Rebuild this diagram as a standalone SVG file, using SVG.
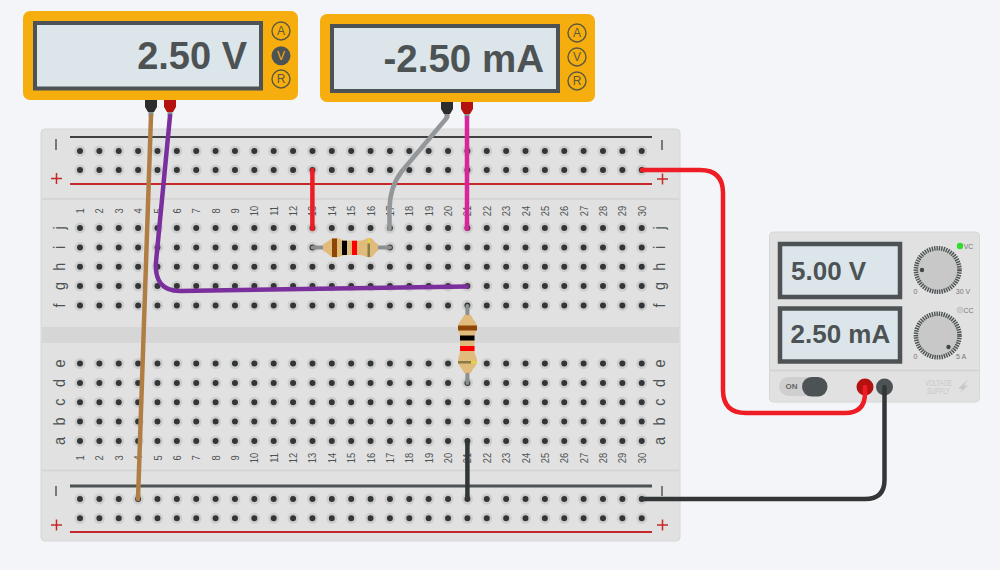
<svg xmlns="http://www.w3.org/2000/svg" xmlns:xlink="http://www.w3.org/1999/xlink" width="1000" height="570" viewBox="0 0 1000 570">
<style>
text{font-family:"Liberation Sans",Arial,sans-serif}
.halo{stroke:#cdcdcd;stroke-width:11;stroke-linecap:round;stroke-dasharray:0 19.37;fill:none}
.hole{stroke:#333637;stroke-width:6;stroke-linecap:round;stroke-dasharray:0 19.37;fill:none}
.num{font-size:11px;fill:#4d5354;text-anchor:middle}
.let{font-size:17px;fill:#4d5354;text-anchor:middle}
.meter{fill:#f5ae0d}
.screen{fill:#dce6ea;stroke:#4d5354;stroke-width:4}
.read{font-weight:bold;fill:#4d5354}
.mb{fill:none;stroke:#5c5840;stroke-width:1.400}
.mt{font-size:12px;fill:#5c5840;text-anchor:middle}
.wire{fill:none;stroke-width:4.500;stroke-linecap:round;stroke-linejoin:round}
.lead{stroke:#8b8f91;stroke-width:4;stroke-linecap:round;fill:none}
.body{fill:#e0bb7c}
.plab{font-size:7px;fill:#777;text-anchor:middle}
.vs{font-size:9px;fill:#c8c8c8;text-anchor:middle}
.knob{fill:#c8c8c8;stroke:#4d5354;stroke-width:4.500;stroke-dasharray:1.400 1}
</style>
<defs>
<g id="r2"><line class="halo" x1="80" x2="642" y1="0" y2="0"/><line class="hole" x1="80" x2="642" y1="0" y2="0"/></g>
<g id="probeB"><path d="M-6 0H6V7L3 12H-3L-6 7Z" fill="#2c2c2c"/><rect x="-2.500" y="12" width="5" height="4" fill="#8b8f91"/></g>
<g id="probeR"><path d="M-6 0H6V7L3 12H-3L-6 7Z" fill="#b3120f"/><rect x="-2.500" y="12" width="5" height="4" fill="#8b8f91"/></g>
</defs>
<rect width="1000" height="570" fill="#f3f5f8"/>

<g id="breadboard">
<rect x="41" y="129" width="639" height="412" rx="4" fill="#e1e1e1" stroke="#d6d6d6"/>
<rect x="42" y="327" width="637" height="16" fill="#d6d6d6"/>
<path d="M42 199H679M42 470.500H679" stroke="#d2d2d2" stroke-width="1.500"/>
<path d="M70 137H652" stroke="#3f4142" stroke-width="2"/>
<path d="M70 486H652" stroke="#4d5354" stroke-width="3"/>
<path d="M70 184H652M70 532H652" stroke="#c5282b" stroke-width="2"/>
<path d="M56 139V150M662 140V150M56 486V496M662 486V496" stroke="#555" stroke-width="1.500"/>
<path d="M51 178.500H62M56.500 173V184M657 179H668M662.500 173.500V184.500M51 525H62M56.500 519.500V530.500M657 525H668M662.500 519.500V530.500" stroke="#c5282b" stroke-width="1.500"/>
<use xlink:href="#r2" y="151"/><use xlink:href="#r2" y="170"/>
<use xlink:href="#r2" y="228"/><use xlink:href="#r2" y="247.400"/><use xlink:href="#r2" y="266.700"/><use xlink:href="#r2" y="286"/><use xlink:href="#r2" y="305.400"/>
<use xlink:href="#r2" y="363.500"/><use xlink:href="#r2" y="382.900"/><use xlink:href="#r2" y="402.200"/><use xlink:href="#r2" y="421.600"/><use xlink:href="#r2" y="441"/>
<use xlink:href="#r2" y="499"/><use xlink:href="#r2" y="518.300"/>
<g class="let">
<text transform="translate(65,228) rotate(-90) scale(.85,1)">j</text><text transform="translate(65,247.400) rotate(-90) scale(.85,1)">i</text><text transform="translate(65,266.700) rotate(-90) scale(.85,1)">h</text><text transform="translate(65,286) rotate(-90) scale(.85,1)">g</text><text transform="translate(65,305.400) rotate(-90) scale(.85,1)">f</text>
<text transform="translate(65,363.500) rotate(-90) scale(.85,1)">e</text><text transform="translate(65,382.900) rotate(-90) scale(.85,1)">d</text><text transform="translate(65,402.200) rotate(-90) scale(.85,1)">c</text><text transform="translate(65,421.600) rotate(-90) scale(.85,1)">b</text><text transform="translate(65,441) rotate(-90) scale(.85,1)">a</text>
<text transform="translate(665,228) rotate(-90) scale(.85,1)">j</text><text transform="translate(665,247.400) rotate(-90) scale(.85,1)">i</text><text transform="translate(665,266.700) rotate(-90) scale(.85,1)">h</text><text transform="translate(665,286) rotate(-90) scale(.85,1)">g</text><text transform="translate(665,305.400) rotate(-90) scale(.85,1)">f</text>
<text transform="translate(665,363.500) rotate(-90) scale(.85,1)">e</text><text transform="translate(665,382.900) rotate(-90) scale(.85,1)">d</text><text transform="translate(665,402.200) rotate(-90) scale(.85,1)">c</text><text transform="translate(665,421.600) rotate(-90) scale(.85,1)">b</text><text transform="translate(665,441) rotate(-90) scale(.85,1)">a</text>
</g>
<g class="num">
<text transform="translate(84,211) rotate(-90) scale(.85,1)">1</text><text transform="translate(103.400,211) rotate(-90) scale(.85,1)">2</text><text transform="translate(122.700,211) rotate(-90) scale(.85,1)">3</text><text transform="translate(142.100,211) rotate(-90) scale(.85,1)">4</text><text transform="translate(161.500,211) rotate(-90) scale(.85,1)">5</text><text transform="translate(180.900,211) rotate(-90) scale(.85,1)">6</text><text transform="translate(200.200,211) rotate(-90) scale(.85,1)">7</text><text transform="translate(219.600,211) rotate(-90) scale(.85,1)">8</text><text transform="translate(239,211) rotate(-90) scale(.85,1)">9</text><text transform="translate(258.300,211) rotate(-90) scale(.85,1)">10</text><text transform="translate(277.700,211) rotate(-90) scale(.85,1)">11</text><text transform="translate(297.100,211) rotate(-90) scale(.85,1)">12</text><text transform="translate(316.400,211) rotate(-90) scale(.85,1)">13</text><text transform="translate(335.800,211) rotate(-90) scale(.85,1)">14</text><text transform="translate(355.200,211) rotate(-90) scale(.85,1)">15</text><text transform="translate(374.600,211) rotate(-90) scale(.85,1)">16</text><text transform="translate(393.900,211) rotate(-90) scale(.85,1)">17</text><text transform="translate(413.300,211) rotate(-90) scale(.85,1)">18</text><text transform="translate(432.700,211) rotate(-90) scale(.85,1)">19</text><text transform="translate(452,211) rotate(-90) scale(.85,1)">20</text><text transform="translate(471.400,211) rotate(-90) scale(.85,1)">21</text><text transform="translate(490.800,211) rotate(-90) scale(.85,1)">22</text><text transform="translate(510.100,211) rotate(-90) scale(.85,1)">23</text><text transform="translate(529.500,211) rotate(-90) scale(.85,1)">24</text><text transform="translate(548.900,211) rotate(-90) scale(.85,1)">25</text><text transform="translate(568.300,211) rotate(-90) scale(.85,1)">26</text><text transform="translate(587.600,211) rotate(-90) scale(.85,1)">27</text><text transform="translate(607,211) rotate(-90) scale(.85,1)">28</text><text transform="translate(626.400,211) rotate(-90) scale(.85,1)">29</text><text transform="translate(645.700,211) rotate(-90) scale(.85,1)">30</text>
<text transform="translate(84,458) rotate(-90) scale(.85,1)">1</text><text transform="translate(103.400,458) rotate(-90) scale(.85,1)">2</text><text transform="translate(122.700,458) rotate(-90) scale(.85,1)">3</text><text transform="translate(142.100,458) rotate(-90) scale(.85,1)">4</text><text transform="translate(161.500,458) rotate(-90) scale(.85,1)">5</text><text transform="translate(180.900,458) rotate(-90) scale(.85,1)">6</text><text transform="translate(200.200,458) rotate(-90) scale(.85,1)">7</text><text transform="translate(219.600,458) rotate(-90) scale(.85,1)">8</text><text transform="translate(239,458) rotate(-90) scale(.85,1)">9</text><text transform="translate(258.300,458) rotate(-90) scale(.85,1)">10</text><text transform="translate(277.700,458) rotate(-90) scale(.85,1)">11</text><text transform="translate(297.100,458) rotate(-90) scale(.85,1)">12</text><text transform="translate(316.400,458) rotate(-90) scale(.85,1)">13</text><text transform="translate(335.800,458) rotate(-90) scale(.85,1)">14</text><text transform="translate(355.200,458) rotate(-90) scale(.85,1)">15</text><text transform="translate(374.600,458) rotate(-90) scale(.85,1)">16</text><text transform="translate(393.900,458) rotate(-90) scale(.85,1)">17</text><text transform="translate(413.300,458) rotate(-90) scale(.85,1)">18</text><text transform="translate(432.700,458) rotate(-90) scale(.85,1)">19</text><text transform="translate(452,458) rotate(-90) scale(.85,1)">20</text><text transform="translate(471.400,458) rotate(-90) scale(.85,1)">21</text><text transform="translate(490.800,458) rotate(-90) scale(.85,1)">22</text><text transform="translate(510.100,458) rotate(-90) scale(.85,1)">23</text><text transform="translate(529.500,458) rotate(-90) scale(.85,1)">24</text><text transform="translate(548.900,458) rotate(-90) scale(.85,1)">25</text><text transform="translate(568.300,458) rotate(-90) scale(.85,1)">26</text><text transform="translate(587.600,458) rotate(-90) scale(.85,1)">27</text><text transform="translate(607,458) rotate(-90) scale(.85,1)">28</text><text transform="translate(626.400,458) rotate(-90) scale(.85,1)">29</text><text transform="translate(645.700,458) rotate(-90) scale(.85,1)">30</text>
</g>
</g>

<g id="multimeter-voltage">
<rect class="meter" x="23" y="11" width="275" height="89" rx="7"/>
<rect class="screen" x="35" y="23" width="226" height="65.500"/>
<text class="read" x="247" y="69" font-size="38" text-anchor="end">2.50 V</text>
<circle class="mb" cx="281" cy="31" r="9"/><text class="mt" x="281" y="35.300">A</text>
<circle cx="281" cy="55.700" r="9.500" fill="#4d5354"/><text class="mt" x="281" y="60" style="fill:#f5ae0d">V</text>
<circle class="mb" cx="281" cy="79" r="9"/><text class="mt" x="281" y="83.300">R</text>
<use xlink:href="#probeB" x="151" y="100"/><use xlink:href="#probeR" x="170" y="100"/>
</g>

<g id="multimeter-current">
<rect class="meter" x="320" y="14" width="275" height="88" rx="7"/>
<rect class="screen" x="332" y="26" width="226" height="65"/>
<text class="read" x="544" y="71.500" font-size="38.500" text-anchor="end">-2.50 mA</text>
<circle class="mb" cx="577" cy="33" r="9"/><text class="mt" x="577" y="37.300">A</text>
<circle class="mb" cx="577" cy="57" r="9"/><text class="mt" x="577" y="61.300">V</text>
<circle class="mb" cx="577" cy="81" r="9"/><text class="mt" x="577" y="85.300">R</text>
<use xlink:href="#probeB" x="447" y="102"/><use xlink:href="#probeR" x="467" y="102"/>
</g>

<g id="power-supply">
<rect x="769.500" y="232" width="210" height="170" rx="4" fill="#e1e1e1" stroke="#d6d6d6"/>
<path d="M770 370.500H979" stroke="#d2d2d2" stroke-width="1.500"/>
<rect x="780" y="244" width="120" height="53" fill="#dce6ea" stroke="#4d5354" stroke-width="4.500"/>
<rect x="780" y="308.500" width="120" height="53" fill="#dce6ea" stroke="#4d5354" stroke-width="4.500"/>
<text class="read" x="791" y="279.500" font-size="26">5.00 V</text>
<text class="read" x="790.500" y="343" font-size="26">2.50 mA</text>
<circle class="knob" cx="937.700" cy="270" r="21.800"/><circle cx="922" cy="270" r="2.200" fill="#444"/>
<circle class="knob" cx="937.700" cy="335.500" r="21.800"/><circle cx="948.500" cy="347" r="2.200" fill="#444"/>
<circle cx="960" cy="246" r="3.200" fill="#2fdc2f"/><text class="plab" x="968.500" y="248.500">VC</text>
<circle cx="960" cy="310" r="3" fill="#cfcfcf" stroke="#c4c4c4"/><text class="plab" x="968.500" y="312.500">CC</text>
<text class="plab" x="915.500" y="294">0</text><text class="plab" x="963" y="294">30 V</text>
<text class="plab" x="915.500" y="359">0</text><text class="plab" x="961" y="359">5 A</text>
<rect x="779" y="377" width="48" height="19" rx="9.500" fill="#cfcfcf"/>
<rect x="802" y="377" width="25.500" height="19.500" rx="9.700" fill="#4d5354"/>
<text x="791.500" y="389" font-size="8" font-weight="bold" fill="#666" text-anchor="middle">ON</text>
<circle cx="865" cy="387" r="8.500" fill="#b3120f"/><circle cx="884.500" cy="387" r="8.500" fill="#4d5354"/>
<text class="vs" x="938.500" y="385.500" textLength="27" lengthAdjust="spacingAndGlyphs">VOLTAGE</text><text class="vs" x="938.500" y="394" textLength="23" lengthAdjust="spacingAndGlyphs">SUPPLY</text>
<path d="M968 379L958 389H962.500L959 394L968 385.500H964Z" fill="#c8c8c8"/>
</g>

<g id="resistor-horizontal">
<path class="lead" d="M312.500 247.400H390"/>
<path class="body" d="M323 244C327 243 330 238 335 238C340 238 342 240.700 346 240.700H360C364 240.700 366 238 370 238C373 238 375 243 378 244V251C375 252 373 257.500 370 257.500C366 257.500 364 255 360 255H346C342 255 340 257.500 335 257.500C330 257.500 327 252 323 251Z"/>
<rect x="332" y="238.500" width="5" height="18.500" fill="#8e4607"/>
<rect x="342" y="240.700" width="5" height="14.300" fill="#000"/>
<rect x="352" y="240.700" width="5" height="14.300" fill="#f00"/>
<rect x="367.500" y="238.500" width="2.500" height="5" fill="#e4d43f"/><rect x="367.500" y="243.500" width="2.500" height="13.500" fill="#8a7a45"/>
</g>

<g id="resistor-vertical">
<path class="lead" d="M467.400 306V383"/>
<path class="body" d="M464 315H471C472 319 477 322 477 327C477 331 474.500 333 474.500 337V351C474.500 355 477 357 477 361C477 366 472 369 471 373H464C463 369 458 366 458 361C458 357 460 355 460 351V337C460 333 458 331 458 327C458 322 463 319 464 315Z"/>
<rect x="458" y="325.500" width="19" height="5" fill="#8e4607"/>
<rect x="460" y="335.500" width="14.500" height="5" fill="#000"/>
<rect x="460" y="346" width="14.500" height="5" fill="#f00"/>
<rect x="458" y="361" width="13" height="2.500" fill="#8a7a45"/><rect x="471" y="361" width="6" height="2.500" fill="#e4d43f"/>
</g>

<g id="connectors">
<path class="wire" stroke="#b07e45" d="M151 116L138 499"/>
<path class="wire" stroke="#7b2f9d" d="M170 116L156 262Q154 291 180 291L467 286.500"/>
<path class="wire" stroke="#939799" d="M446.700 118L402 171Q389.500 187 389.500 210V229"/>
<path class="wire" stroke="#d9249b" d="M467 118V229"/>
<path class="wire" stroke="#ee1c24" d="M312.400 170V229"/>
<path class="wire" stroke="#ee1c24" d="M642 170H700Q723 170 723 193V390Q723 413 746 413H845Q865 413 865 393V387"/>
<path class="wire" stroke="#333637" d="M642 499H865Q884.500 499 884.500 480V387"/>
<path class="wire" stroke="#333637" d="M467.400 441V499"/>
</g>
</svg>
